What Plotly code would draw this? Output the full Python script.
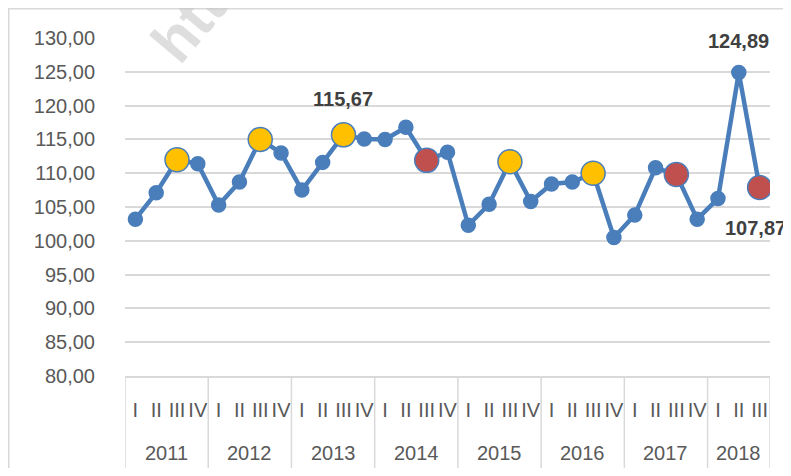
import plotly.graph_objects as go

# ---- data ----
years = ["2011", "2012", "2013", "2014", "2015", "2016", "2017", "2018"]
quarters_per_year = [["I", "II", "III", "IV"]] * 7 + [["I", "II", "III"]]
values = [103.2, 107.1, 112.0, 111.4,
          105.3, 108.7, 115.0, 113.0,
          107.5, 111.6, 115.67, 115.05,
          115.0, 116.8, 111.9, 113.1,
          102.3, 105.4, 111.7, 105.8,
          108.4, 108.7, 110.0, 100.5,
          103.8, 110.8, 109.8, 103.2,
          106.25, 124.89, 107.87]
yellow_points = [("2011", "III"), ("2012", "III"), ("2013", "III"), ("2015", "III"), ("2016", "III")]
red_points = [("2014", "III"), ("2017", "III"), ("2018", "III")]
labelled_points = [("2013", "III"), ("2018", "II"), ("2018", "III")]

x_year, x_q = [], []
for y, qs in zip(years, quarters_per_year):
    for q in qs:
        x_year.append(y)
        x_q.append(q)
keys = list(zip(x_year, x_q))
xi = list(range(len(keys)))

BLUE = "#4A7EBB"
GRID = "#D9D9D9"
sizes, colors = [], []
for k in keys:
    if k in yellow_points:
        sizes.append(24); colors.append("#FFC000")
    elif k in red_points:
        sizes.append(24); colors.append("#C0504D")
    else:
        sizes.append(14); colors.append(BLUE)

W, H = 783, 460
L, R, T, B = 117, 21, 30, 92
PW, PH = W - L - R, H - T - B

fig = go.Figure()
fig.add_trace(go.Scatter(
    x=xi, y=values, mode="lines+markers",
    line=dict(color=BLUE, width=4.5),
    marker=dict(size=sizes, color=colors, opacity=1, line=dict(color=BLUE, width=1.5)),
    hoverinfo="skip", showlegend=False,
))

def fmt(v):
    return f"{v:.2f}".replace(".", ",")

label_shift = {("2013", "III"): (0, 36), ("2018", "II"): (0, 32), ("2018", "III"): (-4, -40)}
for k in labelled_points:
    i = keys.index(k)
    dx, dy = label_shift[k]
    fig.add_annotation(x=i, y=values[i], xref="x", yref="y", text=fmt(values[i]),
                       showarrow=False, xshift=dx, yshift=dy, xanchor="center", yanchor="middle",
                       font=dict(family="Liberation Sans", size=20, color="#404040", weight="bold"))

# year group labels and dividers (category axis in data coordinates)
start = 0
bounds = [-0.5]
for y, qs in zip(years, quarters_per_year):
    n = len(qs)
    center = start + (n - 1) / 2
    fig.add_annotation(x=center, y=-77 / PH, xref="x", yref="paper", text=y, showarrow=False,
                       xanchor="center", yanchor="middle",
                       font=dict(family="Liberation Sans", size=20, color="#595959"))
    start += n
    bounds.append(start - 0.5)
for b in bounds:
    fig.add_shape(type="line", xref="x", yref="paper", x0=b, x1=b, y0=0, y1=-93 / PH,
                  line=dict(color=GRID, width=1.5))

# watermark
fig.add_annotation(xref="paper", yref="paper", x=(180 - L) / PW, y=(PH + T - 16) / PH, text="htt",
                   showarrow=False, xanchor="center", yanchor="middle", textangle=-50,
                   font=dict(family="Liberation Sans", size=60, color="rgba(195,195,195,0.55)", weight="bold"))

# outer chart border
fig.add_shape(type="rect", xref="paper", yref="paper",
              x0=(0.75 - L) / PW, x1=1.1, y0=-0.5, y1=(PH + T - 0.75) / PH,
              line=dict(color=GRID, width=1.5), fillcolor="rgba(0,0,0,0)", layer="below")

fig.update_layout(
    width=W, height=H,
    margin=dict(l=L, r=R, t=T, b=B, autoexpand=False),
    paper_bgcolor="white", plot_bgcolor="white",
    separators=",.",
    font=dict(family="Liberation Sans", color="#595959", size=20),
    xaxis=dict(range=[-0.5, len(keys) - 0.5], tickmode="array", tickvals=xi, ticktext=x_q,
               showgrid=False, showline=True, linecolor=GRID, linewidth=1.5, zeroline=False,
               tickangle=0, ticks="", ticklabelstandoff=15,
               tickfont=dict(size=20, color="#595959")),
    yaxis=dict(range=[80, 130], dtick=5, tickformat=".2f", showgrid=True, gridcolor=GRID,
               gridwidth=1.5, zeroline=False, showline=False, ticks="", ticklabelstandoff=29,
               tickfont=dict(size=20, color="#595959")),
)

fig.write_html("out.html")
